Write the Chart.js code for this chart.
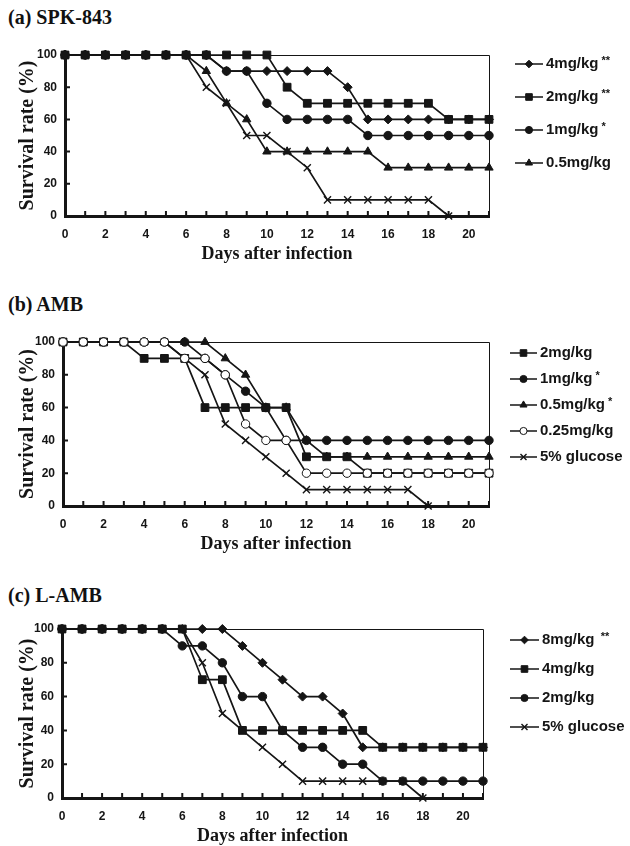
<!DOCTYPE html>
<html>
<head>
<meta charset="utf-8">
<script src="https://cdn.jsdelivr.net/npm/chart.js@4.4.1/dist/chart.umd.min.js"></script>
<style>
  body { margin: 0; background: #fff; width: 630px; height: 846px; overflow: hidden; position: relative; }
  .ttl { position: absolute; left: 8px; font: bold 20px "Liberation Serif", serif; color: #111; white-space: nowrap; }
  .panel { position: absolute; left: 0; }
</style>
</head>
<body>
<div class="ttl" style="top:6px">(a) SPK-843</div>
<div class="panel" style="top:30px"><canvas id="chartA" width="630" height="238"></canvas></div>
<div class="ttl" style="top:293px">(b) AMB</div>
<div class="panel" style="top:320px"><canvas id="chartB" width="630" height="238"></canvas></div>
<div class="ttl" style="top:584px">(c) L-AMB</div>
<div class="panel" style="top:606px"><canvas id="chartC" width="630" height="244"></canvas></div>

<script>
// days after infection and axis ticks
const days = [0, 1, 2, 3, 4, 5, 6, 7, 8, 9, 10, 11, 12, 13, 14, 15, 16, 17, 18, 19, 20, 21];
const dayTicks = [0, 2, 4, 6, 8, 10, 12, 14, 16, 18, 20];
const rateTicks = [0, 20, 40, 60, 80, 100];

// (a) SPK-843 survival (%)
const spk4  = [100, 100, 100, 100, 100, 100, 100, 100, 90, 90, 90, 90, 90, 90, 80, 60, 60, 60, 60, 60, 60, 60];
const spk2  = [100, 100, 100, 100, 100, 100, 100, 100, 100, 100, 100, 80, 70, 70, 70, 70, 70, 70, 70, 60, 60, 60];
const spk1  = [100, 100, 100, 100, 100, 100, 100, 100, 90, 90, 70, 60, 60, 60, 60, 50, 50, 50, 50, 50, 50, 50];
const spk05 = [100, 100, 100, 100, 100, 100, 100, 90, 70, 60, 40, 40, 40, 40, 40, 40, 30, 30, 30, 30, 30, 30];
const spkGlu = [100, 100, 100, 100, 100, 100, 100, 80, 70, 50, 50, 40, 30, 10, 10, 10, 10, 10, 10, 0, null, null];

// (b) AMB survival (%)
const amb2   = [100, 100, 100, 100, 90, 90, 90, 60, 60, 60, 60, 60, 30, 30, 30, 20, 20, 20, 20, 20, 20, 20];
const amb1   = [100, 100, 100, 100, 100, 100, 100, 90, 80, 70, 60, 40, 40, 40, 40, 40, 40, 40, 40, 40, 40, 40];
const amb05  = [100, 100, 100, 100, 100, 100, 100, 100, 90, 80, 60, 60, 40, 30, 30, 30, 30, 30, 30, 30, 30, 30];
const amb025 = [100, 100, 100, 100, 100, 100, 90, 90, 80, 50, 40, 40, 20, 20, 20, 20, 20, 20, 20, 20, 20, 20];
const ambGlu = [100, 100, 100, 100, 100, 100, 90, 80, 50, 40, 30, 20, 10, 10, 10, 10, 10, 10, 0, null, null, null];

// (c) L-AMB survival (%)
const lamb8   = [100, 100, 100, 100, 100, 100, 100, 100, 100, 90, 80, 70, 60, 60, 50, 30, 30, 30, 30, 30, 30, 30];
const lamb4   = [100, 100, 100, 100, 100, 100, 100, 70, 70, 40, 40, 40, 40, 40, 40, 40, 30, 30, 30, 30, 30, 30];
const lamb2   = [100, 100, 100, 100, 100, 100, 90, 90, 80, 60, 60, 40, 30, 30, 20, 20, 10, 10, 10, 10, 10, 10];
const lambGlu = [100, 100, 100, 100, 100, 100, 100, 80, 50, 40, 30, 20, 10, 10, 10, 10, 10, 10, 0, null, null, null];

const ink = '#151515';

const markers = {
  diamond:  { pointStyle: 'rectRot',  pointRadius: 4.5, fill: ink },
  square:   { pointStyle: 'rect',     pointRadius: 5.5, fill: ink },
  circle:   { pointStyle: 'circle',   pointRadius: 4.2, fill: ink },
  triangle: { pointStyle: 'triangle', pointRadius: 4.8, fill: ink },
  open:     { pointStyle: 'circle',   pointRadius: 4.2, fill: '#fff' },
  cross:    { pointStyle: 'crossRot', pointRadius: 5,   fill: ink }
};

function series(label, values, mark, order) {
  const m = markers[mark];
  return {
    label: label,
    data: days.map((d, i) => ({ x: d, y: values[i] })),
    borderColor: ink,
    borderWidth: 1.7,
    pointStyle: m.pointStyle,
    pointRadius: m.pointRadius,
    pointBackgroundColor: m.fill,
    pointBorderColor: ink,
    pointBorderWidth: mark === 'cross' ? 1.4 : 1,
    tension: 0,
    spanGaps: false,
    clip: false,
    order: order || 1
  };
}

// thin box on top/right, inward tick marks on both axes
const framePlugin = {
  id: 'frame',
  beforeDatasetsDraw(chart) {
    const { ctx, chartArea: a, scales: { x, y } } = chart;
    ctx.save();
    ctx.strokeStyle = ink;
    ctx.lineWidth = 1;
    ctx.beginPath();
    ctx.moveTo(a.left, a.top + 0.5);
    ctx.lineTo(a.right + 0.5, a.top + 0.5);
    ctx.lineTo(a.right + 0.5, a.bottom);
    ctx.stroke();
    ctx.lineWidth = 2;
    ctx.beginPath();
    days.forEach(d => {
      const px = x.getPixelForValue(d);
      ctx.moveTo(px, a.bottom);
      ctx.lineTo(px, a.bottom - 5);
    });
    rateTicks.forEach(v => {
      const py = y.getPixelForValue(v);
      ctx.moveTo(a.left, py);
      ctx.lineTo(a.left + 5, py);
    });
    ctx.stroke();
    ctx.restore();
  }
};

// legend at the right: line sample + marker + label (stars smaller)
const sideLegend = {
  id: 'sideLegend',
  afterDraw(chart, args, opts) {
    const ctx = chart.ctx;
    ctx.save();
    opts.items.forEach((idx, i) => {
      const ds = chart.data.datasets[idx];
      const y = opts.top + i * opts.gap;
      const x0 = opts.left;
      ctx.strokeStyle = ink;
      ctx.lineWidth = 1.5;
      ctx.beginPath();
      ctx.moveTo(x0, y);
      ctx.lineTo(x0 + opts.len, y);
      ctx.stroke();
      ctx.fillStyle = ds.pointBackgroundColor;
      ctx.lineWidth = ds.pointBorderWidth;
      Chart.helpers.drawPoint(ctx, {
        pointStyle: ds.pointStyle,
        radius: ds.pointRadius * 0.85,
        borderWidth: ds.pointBorderWidth,
        rotation: 0
      }, x0 + opts.len / 2, y);
      const parts = ds.label.split(/(\s+\*+)$/);
      ctx.fillStyle = ink;
      ctx.textBaseline = 'middle';
      ctx.font = 'bold 15px "Liberation Sans", Arial, sans-serif';
      const tx = x0 + opts.len + 3;
      ctx.fillText(parts[0], tx, y);
      if (parts[1]) {
        const w = ctx.measureText(parts[0]).width;
        ctx.font = 'bold 11px "Liberation Sans", Arial, sans-serif';
        ctx.fillText(parts[1], tx + w, y - 3);
      }
    });
    ctx.restore();
  }
};

function makePanel(id, datasets, cfg) {
  return new Chart(document.getElementById(id), {
    type: 'line',
    data: { datasets: datasets },
    plugins: [framePlugin, sideLegend],
    options: {
      responsive: false,
      animation: false,
      layout: { padding: { top: cfg.top, right: cfg.right, bottom: 0, left: 0 } },
      plugins: {
        legend: { display: false },
        tooltip: { enabled: false },
        sideLegend: cfg.legend
      },
      scales: {
        x: {
          type: 'linear',
          min: 0,
          max: 21,
          afterBuildTicks: s => { s.ticks = dayTicks.map(v => ({ value: v })); },
          afterFit: s => { s.height = 52; },
          grid: { display: false, drawTicks: false },
          border: { display: true, width: 3, color: ink },
          ticks: {
            color: ink,
            padding: 11,
            maxRotation: 0,
            font: { family: '"Liberation Sans", Arial, sans-serif', size: 12, weight: 'bold' }
          },
          title: {
            display: true,
            text: 'Days after infection',
            color: ink,
            padding: { top: 0, bottom: 3 },
            font: { family: '"Liberation Serif", serif', size: 18, weight: 'bold' }
          }
        },
        y: {
          min: 0,
          max: 100,
          afterBuildTicks: s => { s.ticks = rateTicks.map(v => ({ value: v })); },
          afterFit: s => { s.width = cfg.left; },
          grid: { display: false, drawTicks: false },
          border: { display: true, width: 3, color: ink },
          ticks: {
            color: ink,
            padding: 8,
            font: { family: '"Liberation Sans", Arial, sans-serif', size: 12, weight: 'bold' }
          },
          title: {
            display: true,
            text: 'Survival rate (%)',
            color: ink,
            padding: { top: 16, bottom: 0 },
            font: { family: '"Liberation Serif", serif', size: 20, weight: 'bold' }
          }
        }
      }
    }
  });
}

makePanel('chartA', [
  series('4mg/kg **', spk4, 'diamond'),
  series('2mg/kg **', spk2, 'square'),
  series('1mg/kg *', spk1, 'circle'),
  series('0.5mg/kg', spk05, 'triangle'),
  series('5% glucose', spkGlu, 'cross')
], { top: 25, right: 141, left: 65, legend: { items: [0, 1, 2, 3], left: 515, top: 34, gap: 33, len: 28 } });

makePanel('chartB', [
  series('2mg/kg', amb2, 'square', 2),
  series('1mg/kg *', amb1, 'circle', 2),
  series('0.5mg/kg *', amb05, 'triangle', 2),
  series('0.25mg/kg', amb025, 'open', 0),
  series('5% glucose', ambGlu, 'cross', 2)
], { top: 22, right: 141, left: 63, legend: { items: [0, 1, 2, 3, 4], left: 510, top: 33, gap: 26, len: 27 } });

makePanel('chartC', [
  series('8mg/kg  **', lamb8, 'diamond'),
  series('4mg/kg', lamb4, 'square'),
  series('2mg/kg', lamb2, 'circle'),
  series('5% glucose', lambGlu, 'cross')
], { top: 23, right: 147, left: 62, legend: { items: [0, 1, 2, 3], left: 510, top: 34, gap: 29, len: 29 } });
</script>
</body>
</html>
